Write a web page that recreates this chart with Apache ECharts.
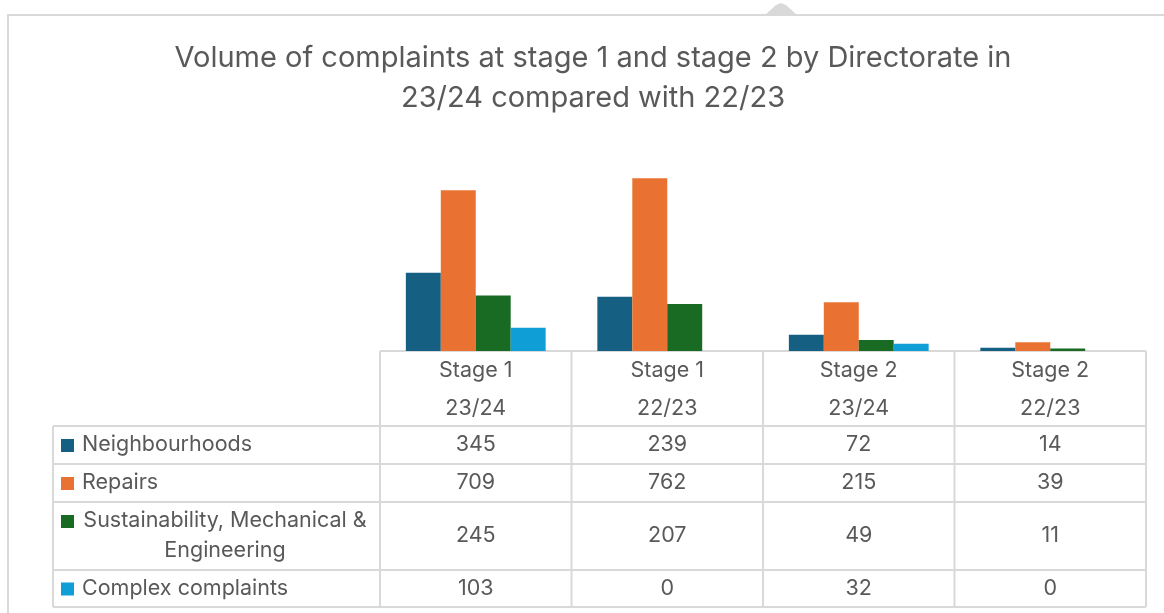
<!DOCTYPE html>
<html>
<head>
<meta charset="utf-8">
<title>Volume of complaints</title>
<script src="https://cdn.jsdelivr.net/npm/echarts@6/dist/echarts.min.js"></script>
<style>
  html, body { margin: 0; padding: 0; background: #fff; }
  #main { width: 1164px; height: 613px; }
</style>
</head>
<body>
<div id="main"></div>
<script>
// data
var stageLabels = ['Stage 1', 'Stage 1', 'Stage 2', 'Stage 2'];
var yearLabels = ['23/24', '22/23', '23/24', '22/23'];
var seriesNames = ['Neighbourhoods', 'Repairs', 'Sustainability, Mechanical &\nEngineering', 'Complex complaints'];
var neighbourhoods = [345, 239, 72, 14];
var repairs = [709, 762, 215, 39];
var sustainability = [245, 207, 49, 11];
var complexComplaints = [103, 0, 32, 0];

var colors = ['#156082', '#E97132', '#196B24', '#0F9ED5'];
var textColor = '#595959';
var lineColor = '#d9d9d9';
var font = 'Inter, "Noto Sans", sans-serif';

var categories = stageLabels.map(function (s, i) { return s + '\n' + yearLabels[i]; });
var seriesData = [neighbourhoods, repairs, sustainability, complexComplaints];

var chart = echarts.init(document.getElementById('main'), null, { renderer: 'canvas' });

var option = {
    animation: false,
    backgroundColor: '#fff',
    title: {
        text: 'Volume of complaints at stage 1 and stage 2 by Directorate in\n23/24 compared with 22/23',
        left: 588,
        top: 33,
        textAlign: 'center',
        textStyle: {
            fontFamily: font,
            fontSize: 29,
            fontWeight: 'normal',
            color: textColor,
            lineHeight: 40
        }
    },
    grid: { left: 380, right: 18, top: 147, bottom: 262 },
    xAxis: {
        type: 'category',
        data: categories,
        axisLine: { show: false },
        axisTick: { show: false },
        axisLabel: { show: false }
    },
    yAxis: {
        type: 'value',
        min: 0,
        max: 900,
        show: false,
        splitLine: { show: false }
    },
    series: seriesData.map(function (d, i) {
        return {
            name: seriesNames[i],
            type: 'bar',
            data: d,
            barGap: '0%',
            barCategoryGap: '27%',
            itemStyle: { color: colors[i] }
        };
    })
};

chart.setOption(option);

// data table under the plot, placed from the axis scale
var top0 = 351, headMid = 389, headBottom = 426;
var rowBottoms = [464, 502, 570, 607];
var tableLeft = 53;
var edges = [];
for (var i = 0; i < categories.length; i++) {
    var c = chart.convertToPixel({ xAxisIndex: 0 }, i);
    var half = (chart.convertToPixel({ xAxisIndex: 0 }, 1) - chart.convertToPixel({ xAxisIndex: 0 }, 0)) / 2;
    if (i === 0) edges.push(c - half);
    edges.push(c + half);
}
var labelRight = edges[0];
var tableRight = edges[edges.length - 1];

var g = [];
function line(x1, y1, x2, y2) {
    g.push({
        type: 'line',
        shape: { x1: x1, y1: y1, x2: x2, y2: y2 },
        style: { stroke: lineColor, lineWidth: 2 },
        silent: true
    });
}
function text(x, y, str, align) {
    g.push({
        type: 'text',
        x: x,
        y: y,
        style: {
            text: str,
            fill: textColor,
            font: '21.5px ' + font,
            textAlign: align || 'center',
            textVerticalAlign: 'middle',
            lineHeight: 30
        },
        silent: true
    });
}

// chart frame + the little tab on top
g.push({
    type: 'rect',
    shape: { x: 8, y: 15, width: 1200, height: 700 },
    style: { fill: null, stroke: lineColor, lineWidth: 2 },
    silent: true
});
g.push({
    type: 'polygon',
    shape: { points: [[765, 15], [776, 5], [781, 3], [786, 5], [797, 15]] },
    style: { fill: lineColor },
    silent: true
});

// horizontal lines
line(labelRight, top0, tableRight, top0);
line(tableLeft, headBottom, tableRight, headBottom);
rowBottoms.forEach(function (y) { line(tableLeft, y, tableRight, y); });
// vertical lines
line(tableLeft, headBottom, tableLeft, rowBottoms[3]);
edges.forEach(function (x) { line(x, top0, x, rowBottoms[3]); });

// header cells
for (var k = 0; k < categories.length; k++) {
    var cx = (edges[k] + edges[k + 1]) / 2;
    text(cx, (top0 + headMid) / 2 + 1, stageLabels[k]);
    text(cx, (headMid + headBottom) / 2 + 1, yearLabels[k]);
}

// rows
var rowTops = [headBottom].concat(rowBottoms.slice(0, 3));
seriesData.forEach(function (d, r) {
    var yMid = (rowTops[r] + rowBottoms[r]) / 2;
    var multi = seriesNames[r].indexOf('\n') >= 0;
    var keyY = multi ? rowTops[r] + 19 : yMid;
    g.push({
        type: 'rect',
        shape: { x: 61, y: keyY - 6, width: 13, height: 13 },
        style: { fill: colors[r] },
        silent: true
    });
    if (multi) {
        text(225, yMid, seriesNames[r], 'center');
    } else {
        text(82, yMid, seriesNames[r], 'left');
    }
    d.forEach(function (v, k) {
        text((edges[k] + edges[k + 1]) / 2, yMid, String(v));
    });
});

chart.setOption({ graphic: { elements: g } });
</script>
</body>
</html>
